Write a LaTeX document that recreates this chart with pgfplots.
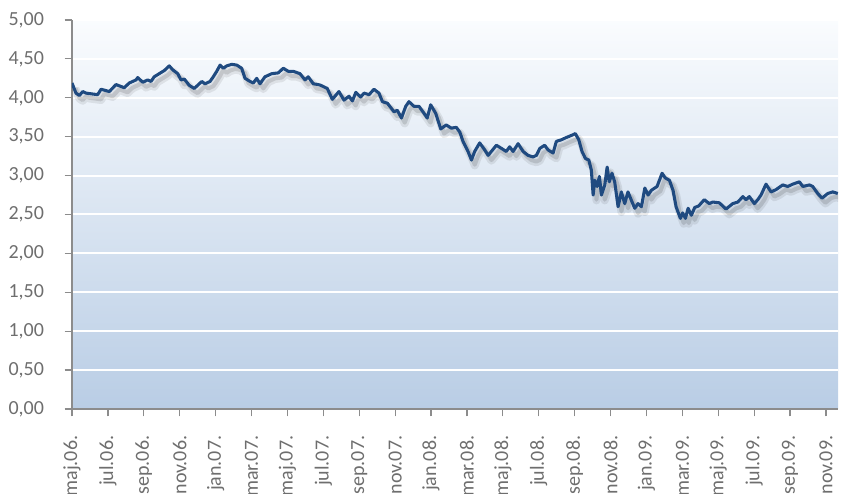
\documentclass[border=0pt]{standalone}
\usepackage{pgfplots}
\pgfplotsset{compat=1.18}
\usepackage{fontspec}
\setmainfont{Carlito}
\definecolor{txtgray}{HTML}{6E6E6E}
\definecolor{axgray}{HTML}{8C8C8C}
\definecolor{bgtop}{HTML}{FAFCFE}
\definecolor{bgbot}{HTML}{B9CDE5}
\definecolor{linecol}{HTML}{1F4A80}
\pgfplotstableread{
m v
0.00 4.19
0.22 4.06
0.41 4.03
0.60 4.08
0.78 4.06
1.43 4.04
1.62 4.11
2.08 4.08
2.45 4.17
2.91 4.13
3.19 4.19
3.57 4.23
3.66 4.26
3.94 4.20
4.22 4.23
4.40 4.21
4.58 4.27
4.86 4.31
5.14 4.35
5.42 4.41
5.61 4.36
5.89 4.31
6.07 4.23
6.26 4.24
6.53 4.16
6.81 4.12
7.23 4.21
7.41 4.18
7.69 4.21
7.87 4.27
8.06 4.34
8.25 4.42
8.43 4.38
8.62 4.41
8.90 4.43
9.18 4.42
9.45 4.38
9.64 4.25
9.92 4.21
10.10 4.19
10.29 4.25
10.47 4.18
10.75 4.27
11.13 4.31
11.49 4.32
11.77 4.38
12.05 4.34
12.33 4.34
12.70 4.31
12.98 4.23
13.16 4.27
13.44 4.18
13.72 4.17
13.86 4.16
14.22 4.12
14.50 3.98
14.87 4.08
15.15 3.97
15.43 4.02
15.62 3.96
15.81 4.07
16.08 4.01
16.27 4.06
16.55 4.04
16.82 4.11
17.10 4.06
17.29 3.95
17.57 3.93
17.94 3.82
18.12 3.84
18.35 3.74
18.59 3.89
18.77 3.95
19.05 3.89
19.33 3.89
19.61 3.80
19.79 3.74
19.98 3.91
20.26 3.80
20.54 3.60
20.72 3.63
20.85 3.65
21.13 3.61
21.41 3.62
21.60 3.56
21.78 3.44
22.06 3.31
22.25 3.20
22.43 3.31
22.71 3.42
22.99 3.33
23.18 3.26
23.36 3.31
23.64 3.39
23.92 3.35
24.19 3.31
24.38 3.37
24.57 3.31
24.85 3.41
25.13 3.31
25.40 3.26
25.68 3.24
25.87 3.26
26.06 3.35
26.33 3.39
26.52 3.33
26.80 3.29
26.98 3.44
27.26 3.46
27.54 3.49
27.86 3.52
28.04 3.54
28.23 3.46
28.41 3.31
28.60 3.22
28.79 3.20
28.93 3.07
29.03 2.75
29.12 2.94
29.25 2.86
29.38 2.99
29.49 2.75
29.68 2.88
29.81 3.11
29.93 2.92
30.08 3.03
30.23 2.92
30.42 2.60
30.60 2.79
30.79 2.64
30.97 2.79
31.20 2.66
31.35 2.58
31.53 2.64
31.72 2.60
31.91 2.84
32.09 2.75
32.27 2.81
32.59 2.86
32.87 3.03
33.05 2.97
33.28 2.94
33.48 2.81
33.65 2.60
33.89 2.45
34.02 2.52
34.17 2.45
34.32 2.58
34.50 2.49
34.69 2.59
34.91 2.61
35.22 2.69
35.50 2.64
35.69 2.66
36.06 2.65
36.43 2.57
36.81 2.64
37.09 2.66
37.37 2.73
37.55 2.69
37.73 2.73
38.01 2.64
38.20 2.69
38.38 2.75
38.66 2.89
38.94 2.79
39.22 2.82
39.59 2.88
39.87 2.86
40.15 2.89
40.52 2.92
40.71 2.86
41.08 2.88
41.26 2.86
41.54 2.77
41.78 2.71
42.10 2.77
42.38 2.79
42.66 2.77
}\rate
\begin{document}
\begin{tikzpicture}
\begin{axis}[
  name=ax,
  scale only axis,
  width=574.5pt, height=291.75pt,
  xmin=0, xmax=42.67,
  ymin=0, ymax=5,
  axis x line*=bottom, axis y line*=left,
  axis line style={axgray, line width=0.9pt, -},
  tick style={axgray, line width=0.9pt},
  tick align=outside,
  major tick length=5.5pt,
  xtick={0,2,...,42},
  xticklabels={maj.06.,jul.06.,sep.06.,nov.06.,jan.07.,mar.07.,maj.07.,jul.07.,sep.07.,nov.07.,jan.08.,mar.08.,maj.08.,jul.08.,sep.08.,nov.08.,jan.09.,mar.09.,maj.09.,jul.09.,sep.09.,nov.09.},
  ytick={0,0.5,...,5},
  ymajorgrids,
  grid style={white, line width=1.5pt},
  axis background/.style={top color=bgtop, bottom color=bgbot},
  xticklabel style={rotate=90, anchor=east, font=\fontsize{15}{15}\selectfont, text=txtgray},
  yticklabel style={font=\fontsize{15}{15}\selectfont, text=txtgray},
  xticklabel shift=11pt,
  yticklabel shift=12pt,
  /pgf/number format/.cd, fixed, fixed zerofill, precision=2, use comma, assume math mode=true,
]
\addplot[black, opacity=0.08, line width=6pt, line join=round, xshift=2.5pt, yshift=-4pt] table[x=m, y=v] {\rate};
\addplot[black, opacity=0.12, line width=3pt, line join=round, xshift=2.5pt, yshift=-3.5pt] table[x=m, y=v] {\rate};
\addplot[linecol, line width=2.3pt, line join=round] table[x=m, y=v] {\rate};
\end{axis}
\pgfresetboundingbox
\path[use as bounding box] ([xshift=-54pt, yshift=-63.75pt]ax.south west) rectangle ([xshift=2.25pt, yshift=15pt]ax.north east);
\end{tikzpicture}
\end{document}
